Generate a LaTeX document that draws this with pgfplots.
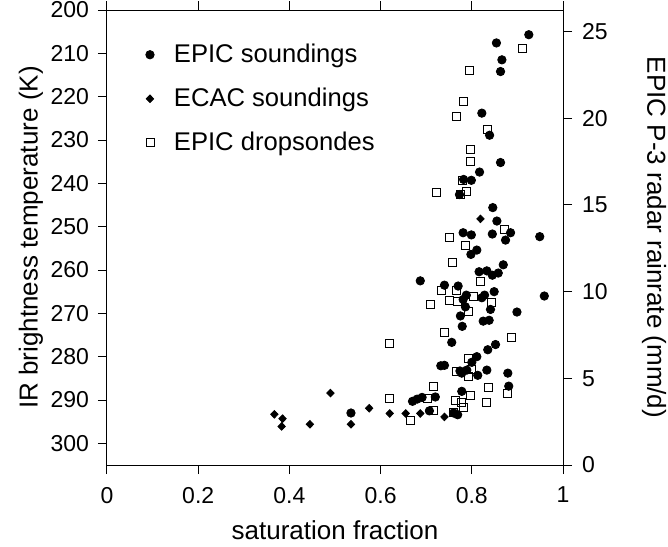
\documentclass[border=0pt]{standalone}
\usepackage{fontspec}
\setmainfont{Liberation Sans}
\usepackage{pgfplots}
\pgfplotsset{compat=1.18}

% saturation fraction vs IR brightness temperature
\pgfplotstableread{
x T
0.925 205.7
0.854 207.6
0.866 211.5
0.863 214.2
0.822 223.8
0.839 228.9
0.863 235.2
0.817 237.4
0.782 239.1
0.799 239.3
0.773 242.6
0.846 245.6
0.855 248.7
0.885 251.4
0.781 251.4
0.799 251.9
0.845 251.7
0.949 252.3
0.874 253.1
0.811 255.4
0.798 256.4
0.869 258.8
0.816 260.4
0.833 260.2
0.845 261.2
0.858 260.7
0.687 262.5
0.740 263.5
0.770 263.7
0.849 265.0
0.788 265.8
0.822 266.4
0.828 265.8
0.781 266.8
0.959 266.0
0.786 268.5
0.841 269.1
0.899 269.7
0.775 270.6
0.825 271.8
0.838 271.6
0.779 273.0
0.756 276.7
0.852 277.2
0.835 278.4
0.811 280.0
0.800 281.3
0.732 282.1
0.740 282.0
0.774 283.3
0.789 283.1
0.833 283.1
0.879 283.8
0.813 284.3
0.778 283.8
0.881 286.8
0.778 288.0
0.720 289.3
0.691 289.4
0.707 292.5
0.760 293.0
0.769 293.4
0.535 293.0
0.670 290.3
0.680 289.8
}\soundings

\pgfplotstableread{
x T
0.819 248.2
0.367 293.3
0.385 294.3
0.383 296.1
0.445 295.6
0.490 288.4
0.535 295.6
0.575 291.9
0.620 293.1
0.655 293.1
0.687 293.1
0.740 293.9
}\ecac

\pgfplotstableread{
x T
0.910 208.9
0.795 213.9
0.782 221.2
0.766 224.5
0.835 227.5
0.797 232.2
0.797 234.9
0.779 239.3
0.722 242.2
0.788 241.8
0.776 242.6
0.871 250.6
0.752 252.6
0.787 254.3
0.757 258.2
0.820 262.6
0.733 264.8
0.766 264.8
0.751 267.0
0.804 266.2
0.769 267.3
0.844 267.4
0.709 267.9
0.793 269.5
0.740 274.5
0.887 275.6
0.620 277.0
0.793 280.3
0.766 283.4
0.800 282.9
0.793 284.5
0.715 286.8
0.836 287.2
0.798 288.9
0.879 288.4
0.703 289.7
0.764 290.1
0.778 290.5
0.833 290.5
0.782 291.8
0.716 292.5
0.760 292.9
0.620 289.6
0.665 294.7
}\drops

\begin{document}
\begin{tikzpicture}
\pgfplotsset{
  every axis/.append style={
    scale only axis, width=228pt, height=227.5pt,
    tick align=outside, major tick length=4.5pt,
    axis line style={line width=0.5pt}, every tick/.style={black, line width=0.5pt},
    tick label style={font=\fontsize{11.5}{13}\selectfont},
    /pgf/number format/assume math mode=true,
    label style={font=\fontsize{13}{15}\selectfont},
  },
}
\begin{axis}[
  name=main,
  xmin=0, xmax=1, ymin=200, ymax=305,
  y dir=reverse,
  xtick={0,0.2,...,1}, ytick={200,210,...,300},
  xtick pos=both, ytick pos=left,
  xticklabel style={yshift=-3pt},
  yticklabel style={xshift=-1pt},
  xlabel={saturation fraction},
  ylabel={IR brightness temperature (K)},
  xlabel style={at={(axis description cs:0.5,-0.163)}, anchor=base},
  ylabel style={at={(axis description cs:-0.167,0.5)}, anchor=center, rotate=0},
  legend style={draw=none, fill=none, at={(axis cs:0.071,205.9)}, anchor=north west,
    font=\fontsize{12.8}{14}\selectfont, row sep=7.25pt},
  legend cell align=left,
  legend image code/.code={\path[draw=none] (0pt,0pt) (10pt,0pt); \draw[#1] plot coordinates {(0pt,0pt)};},
]
\addplot[only marks, mark=*, mark size=2.1pt, black] table[x=x, y=T] {\soundings};
\addplot[only marks, mark=diamond*, mark size=1.9pt, black, mark options={xscale=1.3}] table[x=x, y=T] {\ecac};
\addplot[only marks, mark=square, mark size=2pt, black, mark options={line width=0.45pt}] table[x=x, y=T] {\drops};
\legend{EPIC soundings, ECAC soundings, EPIC dropsondes}
\end{axis}
\begin{axis}[
  xmin=0, xmax=1, ymin=0, ymax=26.25,
  hide x axis,
  axis y line*=right,
  ytick={0,5,...,25},
  yticklabel style={xshift=1.5pt},
  ylabel={EPIC P-3 radar rainrate (mm/d)},
  ylabel style={at={(axis description cs:1.1996,0.5)}, anchor=center, rotate=180},
]
\end{axis}
\pgfresetboundingbox
\path ([shift={(-53.5pt,-40.5pt)}]main.south west) rectangle ([shift={(52.5pt,5pt)}]main.north east);
\end{tikzpicture}
\end{document}
